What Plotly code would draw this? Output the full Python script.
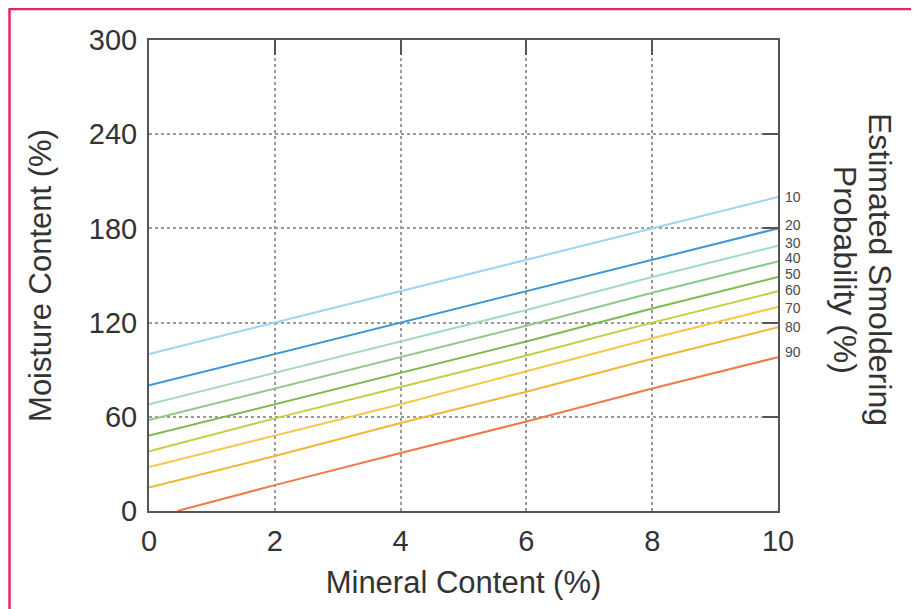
import plotly.graph_objects as go

mineral = [0, 2, 4, 6, 8, 10]
probabilities = ["10", "20", "30", "40", "50", "60", "70", "80", "90"]
moisture = {
    "10": [100, 120, 140, 160, 180, 200],
    "20": [80, 100, 120, 140, 160, 180],
    "30": [68, 88, 108, 128, 149, 169],
    "40": [58, 78, 98, 118, 139, 159],
    "50": [48, 68, 88, 108, 129, 149],
    "60": [38, 59, 79, 99, 120, 140],
    "70": [28, 48, 68, 89, 110, 130],
    "80": [15, 35, 56, 76, 97, 117],
}
mineral_90 = [0.45, 2, 4, 6, 8, 10]
moisture_90 = [0, 16.5, 37, 57, 78, 98]
colors = ["#9ad6f2", "#3d98d6", "#a5d8c8", "#8ec98a", "#79bb52",
          "#b9d440", "#f6c847", "#f5b534", "#f07a45"]
label_y = [200, 182, 171, 161, 151, 141, 129, 117, 101]

FONT = "Liberation Sans, Arial, sans-serif"
fig = go.Figure()
for i, p in enumerate(probabilities):
    if p == "90":
        xs, ys = mineral_90, moisture_90
    else:
        xs, ys = mineral, moisture[p]
    fig.add_trace(go.Scatter(x=xs, y=ys, mode="lines",
                             line=dict(color=colors[i], width=2),
                             showlegend=False, hoverinfo="skip"))
    fig.add_annotation(x=10, y=label_y[i], xref="x", yref="y", text=p,
                       showarrow=False, xanchor="left", yanchor="middle",
                       xshift=5, font=dict(family=FONT, size=14, color="#4a4a4a"))

# invisible trace to activate top/right tick axes
fig.add_trace(go.Scatter(x=[0], y=[0], xaxis="x2", yaxis="y2", mode="markers",
                         marker=dict(opacity=0), showlegend=False, hoverinfo="skip"))

axis_common = dict(showline=True, linecolor="#555", linewidth=2,
                   gridcolor="#999", griddash="dot", gridwidth=1.5,
                   zeroline=False,
                   tickfont=dict(family=FONT, size=29, color="#333"))

fig.update_layout(
    width=911, height=601,
    margin=dict(l=141, r=141, t=32, b=98),
    paper_bgcolor="white", plot_bgcolor="white",
    xaxis=dict(range=[0, 10], tickvals=[0, 2, 4, 6, 8, 10], ticks="",
               ticklabelstandoff=3,
               title=dict(text="Mineral Content (%)", standoff=16,
                          font=dict(family=FONT, size=31, color="#333")),
               **axis_common),
    yaxis=dict(range=[0, 300], tickvals=[0, 60, 120, 180, 240, 300], ticks="",
               ticklabelstandoff=4,
               title=dict(text="Moisture Content (%)", standoff=28,
                          font=dict(family=FONT, size=31, color="#333")),
               **axis_common),
    xaxis2=dict(range=[0, 10], overlaying="x", side="top", showline=True,
                linecolor="#555", linewidth=2, showgrid=False, zeroline=False,
                tickvals=[2, 4, 6, 8], ticks="inside", ticklen=15, tickwidth=2,
                tickcolor="#555", showticklabels=False),
    yaxis2=dict(range=[0, 300], overlaying="y", side="right", showline=True,
                linecolor="#555", linewidth=2, showgrid=False, zeroline=False,
                tickvals=[60, 120, 180, 240], ticks="inside", ticklen=15,
                tickwidth=2, tickcolor="#555", showticklabels=False),
)

# right-side title (two lines, rotated)
fig.add_annotation(xref="paper", yref="paper", x=1.162, y=0.512,
                   text="Estimated Smoldering",
                   showarrow=False, textangle=90, xanchor="center", yanchor="middle",
                   font=dict(family=FONT, size=32, color="#333"))
fig.add_annotation(xref="paper", yref="paper", x=1.1065, y=0.512,
                   text="Probability (%)",
                   showarrow=False, textangle=90, xanchor="center", yanchor="middle",
                   font=dict(family=FONT, size=32, color="#333"))

# pink frame around figure
fig.add_shape(type="rect", xref="paper", yref="paper",
              x0=(9.5 - 149) / 629, x1=(915.5 - 149) / 629,
              y0=(511 - 640) / 471, y1=(511 - 9) / 471,
              line=dict(color="#e8245a", width=2.5), layer="below")

fig.write_html("out.html")
